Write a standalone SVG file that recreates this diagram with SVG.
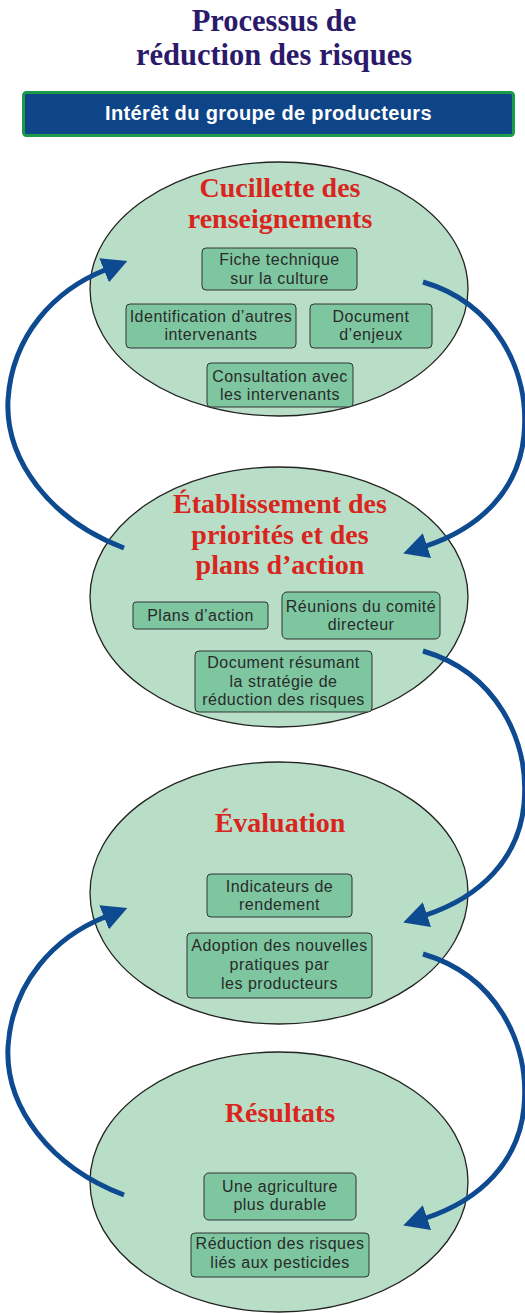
<svg xmlns="http://www.w3.org/2000/svg" width="525" height="1313" viewBox="0 0 525 1313">
<style>
.ttl{font-family:"Liberation Serif","Times New Roman",serif;font-weight:bold;font-size:30.5px;fill:#2b1a6b;text-anchor:middle}
.banner{fill:#0e4588;stroke:#1b9a4a;stroke-width:3}
.btxt{font-family:"Liberation Sans",Arial,sans-serif;font-weight:bold;font-size:20px;letter-spacing:0.35px;fill:#ffffff;text-anchor:middle}
.ell{fill:#b8dec8;stroke:#222;stroke-width:1.3}
.stage{font-family:"Liberation Serif","Times New Roman",serif;font-weight:bold;font-size:28px;fill:#d9251d;text-anchor:middle}
.box{fill:#7dc6a0;stroke:#333;stroke-width:1}
.t{font-family:"Liberation Sans",Arial,sans-serif;font-size:16px;letter-spacing:0.5px;fill:#2a2a2a;text-anchor:middle}
.arr{fill:none;stroke:#0e4a90;stroke-width:5}
</style>
<defs>
<marker id="head" markerUnits="userSpaceOnUse" markerWidth="26" markerHeight="26" viewBox="0 0 26 26" refX="1" refY="13" orient="auto">
<path d="M0,0 L25,13 L0,26 Z" fill="#0e4a90"/>
</marker>
</defs>
<rect width="525" height="1313" fill="#ffffff"/>
<g id="title">
<text class="ttl" x="274" y="31">Processus de</text>
<text class="ttl" x="274" y="65">réduction des risques</text>
</g>
<g id="banner">
<rect class="banner" x="23.5" y="92.5" width="490" height="43" rx="3"/>
<text class="btxt" x="268.5" y="120">Intérêt du groupe de producteurs</text>
</g>
<g id="stage1">
<ellipse class="ell" cx="279" cy="289" rx="189" ry="127"/>
<text class="stage" x="280" y="197">Cucillette des</text>
<text class="stage" x="280" y="228">renseignements</text>
<rect class="box" x="202" y="248" width="155" height="42" rx="4"/>
<text class="t" x="279.5" y="265">Fiche technique</text>
<text class="t" x="279.5" y="284">sur la culture</text>
<rect class="box" x="126" y="304" width="170" height="44" rx="4"/>
<text class="t" x="211" y="322">Identification d’autres</text>
<text class="t" x="211" y="340">intervenants</text>
<rect class="box" x="310" y="304" width="122" height="44" rx="4"/>
<text class="t" x="371" y="322">Document</text>
<text class="t" x="371" y="340">d’enjeux</text>
<rect class="box" x="207" y="363" width="146" height="44" rx="4"/>
<text class="t" x="280" y="382">Consultation avec</text>
<text class="t" x="280" y="400">les intervenants</text>
</g>
<g id="stage2">
<ellipse class="ell" cx="279" cy="597" rx="189" ry="130"/>
<text class="stage" x="280" y="513">Établissement des</text>
<text class="stage" x="280" y="544">priorités et des</text>
<text class="stage" x="280" y="574">plans d’action</text>
<rect class="box" x="133" y="602" width="135" height="27" rx="3"/>
<text class="t" x="200.5" y="621">Plans d’action</text>
<rect class="box" x="282" y="592" width="158" height="47" rx="5"/>
<text class="t" x="361" y="612">Réunions du comité</text>
<text class="t" x="361" y="630">directeur</text>
<rect class="box" x="195" y="651" width="177" height="61" rx="4"/>
<text class="t" x="283.5" y="668">Document résumant</text>
<text class="t" x="283.5" y="687">la stratégie de</text>
<text class="t" x="283.5" y="705">réduction des risques</text>
</g>
<g id="stage3">
<ellipse class="ell" cx="279" cy="893" rx="189" ry="131"/>
<text class="stage" x="280" y="832">Évaluation</text>
<rect class="box" x="207" y="874" width="145" height="43" rx="4"/>
<text class="t" x="279.5" y="892">Indicateurs de</text>
<text class="t" x="279.5" y="910">rendement</text>
<rect class="box" x="187" y="933" width="185" height="65" rx="4"/>
<text class="t" x="279.5" y="951">Adoption des nouvelles</text>
<text class="t" x="279.5" y="970">pratiques par</text>
<text class="t" x="279.5" y="989">les producteurs</text>
</g>
<g id="stage4">
<ellipse class="ell" cx="279" cy="1182" rx="189" ry="130"/>
<text class="stage" x="280" y="1122">Résultats</text>
<rect class="box" x="204" y="1173" width="152" height="47" rx="5"/>
<text class="t" x="280" y="1192">Une agriculture</text>
<text class="t" x="280" y="1210">plus durable</text>
<rect class="box" x="191" y="1233" width="178" height="44" rx="4"/>
<text class="t" x="280" y="1249">Réduction des risques</text>
<text class="t" x="280" y="1268">liés aux pesticides</text>
</g>
<g id="connectors">
<path id="a1" class="arr" marker-end="url(#head)" d="M423,282 C495,303 530,370 524,435 C519,490 480,528 426,546"/>
<path id="a2" class="arr" marker-end="url(#head)" d="M124,548 C50,520 5,460 8,400 C12,335 55,290 105,270"/>
<path id="a3" class="arr" marker-end="url(#head)" transform="translate(0,369)" d="M423,282 C495,303 530,370 524,435 C519,490 480,528 426,546"/>
<path id="a4" class="arr" marker-end="url(#head)" transform="translate(0,647)" d="M124,548 C50,520 5,460 8,400 C12,335 55,290 105,270"/>
<path id="a5" class="arr" marker-end="url(#head)" transform="translate(0,672)" d="M423,282 C495,303 530,370 524,435 C519,490 480,528 426,546"/>
</g>
</svg>
